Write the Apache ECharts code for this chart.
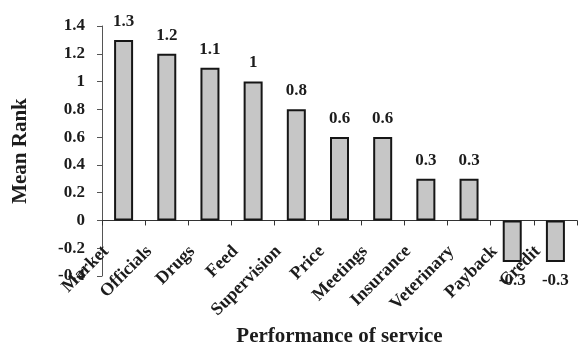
<!DOCTYPE html>
<html>
<head>
<meta charset="utf-8">
<script src="https://cdn.jsdelivr.net/npm/echarts@6/dist/echarts.min.js"></script>
<style>
  html, body { margin: 0; padding: 0; background: #fff; }
  #chart { width: 581px; height: 345px; }
</style>
</head>
<body>
<div id="chart"></div>
<script>
// Mean rank of each service performance item
var categories = ['Market', 'Officials', 'Drugs', 'Feed', 'Supervision', 'Price',
                  'Meetings', 'Insurance', 'Veterinary', 'Payback', 'Credit'];
var meanRank = [1.3, 1.2, 1.1, 1, 0.8, 0.6, 0.6, 0.3, 0.3, -0.3, -0.3];
var yTicks = ['-0.4', '-0.2', '0', '0.2', '0.4', '0.6', '0.8', '1', '1.2', '1.4'];

var serif = '"Liberation Serif", "DejaVu Serif", serif';
var ink = '#1c1c1c';

var chart = echarts.init(document.getElementById('chart'));
chart.setOption({
  animation: false,
  backgroundColor: '#ffffff',
  grid: { left: 102, right: 4, top: 26, bottom: 69, containLabel: false, outerBoundsMode: 'none' },
  xAxis: {
    type: 'category',
    data: categories,
    name: 'Performance of service',
    nameLocation: 'middle',
    nameGap: 50,
    nameTextStyle: { fontFamily: serif, fontWeight: 'bold', fontSize: 21, color: ink },
    axisLine: { onZero: true, lineStyle: { color: '#333', width: 1 } },
    axisTick: { show: true, alignWithLabel: false, length: 5, lineStyle: { color: '#333' } },
    axisLabel: {
      interval: 0,
      rotate: 45,
      margin: -45,
      padding: [0, 25, 0, 0],
      fontFamily: serif,
      fontWeight: 'bold',
      fontSize: 18,
      color: ink
    }
  },
  yAxis: {
    type: 'value',
    min: -0.4,
    max: 1.4,
    interval: 0.2,
    name: 'Mean Rank',
    nameLocation: 'middle',
    nameGap: 71,
    nameTextStyle: { fontFamily: serif, fontWeight: 'bold', fontSize: 21, color: ink },
    axisLine: { show: true, lineStyle: { color: '#555', width: 1 } },
    axisTick: { show: true, length: 5, lineStyle: { color: '#555' } },
    splitLine: { show: false },
    axisLabel: {
      margin: 17,
      fontFamily: serif,
      fontWeight: 'bold',
      fontSize: 17,
      color: ink,
      formatter: function (v) {
        var i = Math.round((v + 0.4) / 0.2);
        return yTicks[i];
      }
    }
  },
  series: [{
    type: 'bar',
    data: meanRank.map(function (v) {
      return {
        value: v,
        label: { position: v < 0 ? 'bottom' : 'top' }
      };
    }),
    barWidth: 19,
    itemStyle: { color: '#c6c6c6', borderColor: '#161616', borderWidth: 2 },
    label: {
      show: true,
      distance: 10,
      fontFamily: serif,
      fontWeight: 'bold',
      fontSize: 17,
      color: ink,
      formatter: function (p) { return String(p.value); }
    }
  }]
});
</script>
</body>
</html>
